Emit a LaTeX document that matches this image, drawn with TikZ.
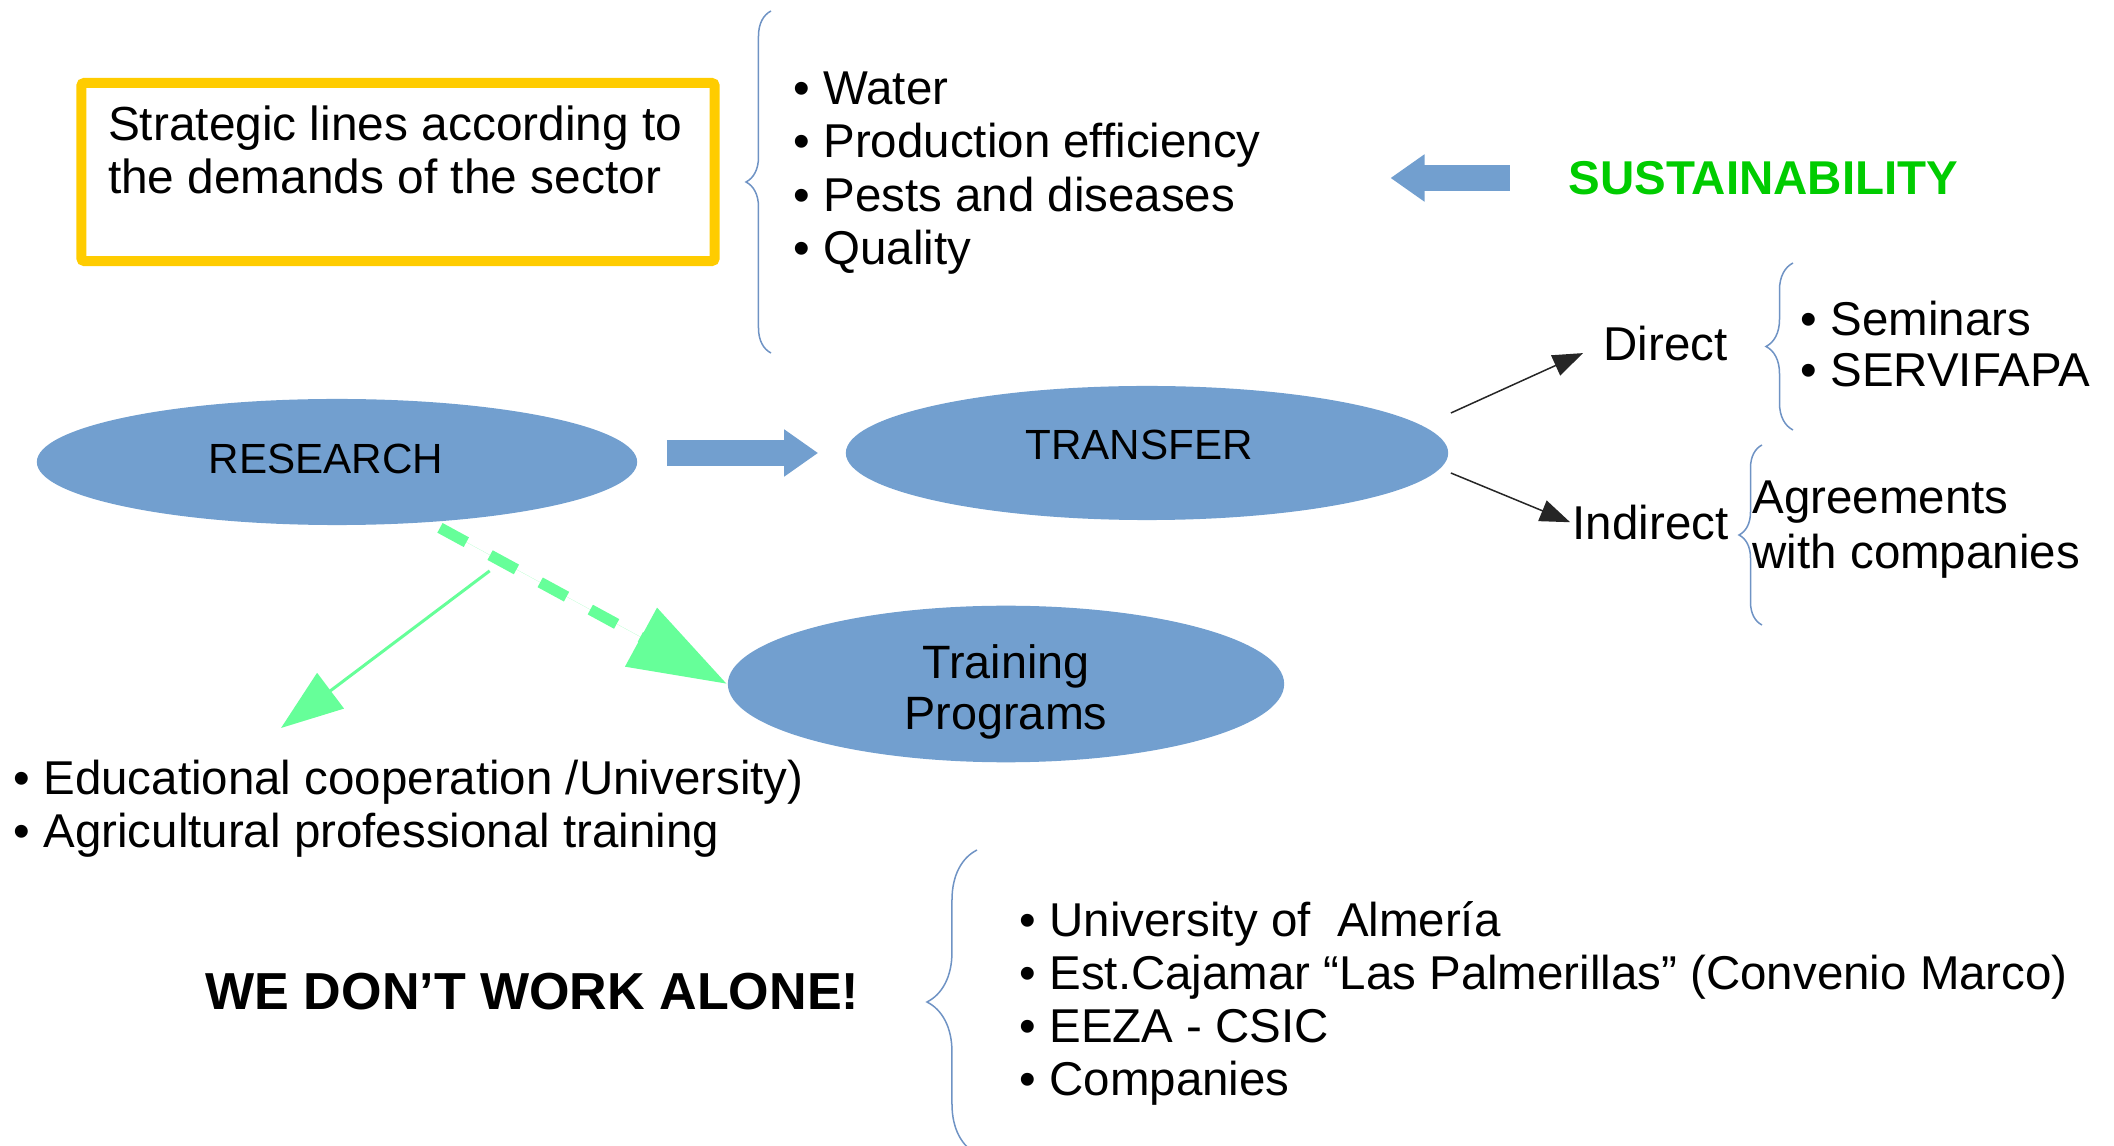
\documentclass[tikz,border=0pt]{standalone}
\usepackage{fontspec}
\setmainfont{Liberation Sans}
\usepackage{tikz}
\usetikzlibrary{calc,positioning,arrows.meta,shapes.geometric,decorations.pathreplacing}
\definecolor{blobblue}{HTML}{729FCF}
\definecolor{boxgold}{HTML}{FFCC00}
\definecolor{leafgreen}{HTML}{66FF99}
\definecolor{sustgreen}{HTML}{00CC00}
\definecolor{curlyblue}{HTML}{6F93C4}
\newcommand\ListFont{\fontsize{13.5pt}{15.2pt}\selectfont}
\newcommand\BlobFont{\fontsize{12pt}{14pt}\selectfont}
\newcommand\TrainFont{\fontsize{13.3pt}{14.5pt}\selectfont}
\newcommand\LoudFont{\fontsize{14.8pt}{17pt}\selectfont\bfseries}

\begin{document}
\begin{tikzpicture}[x=0.01cm,y=-0.01cm,
		blob/.style={ellipse,fill=blobblue,inner sep=0pt,font=\BlobFont},
		txt/.style={inner sep=0pt,anchor=north west,align=left,font=\ListFont},
		curly/.style={draw=curlyblue,line width=0.015cm,decorate,decoration={brace,amplitude=#1}},
		fat/.style={draw=blobblue,line width=0.25cm,-{Triangle[length=0.34cm,width=0.45cm]}},
		pointer/.style={draw=black!85,line width=0.015cm,-{Triangle[length=0.3cm,width=0.22cm]}},
		leafdash/.style={draw=leafgreen,fill=leafgreen,line width=0.11cm,dash pattern=on 0.3cm off 0.27cm,-{Triangle[length=0.98cm,width=0.64cm]}},
		leafline/.style={draw=leafgreen,fill=leafgreen,line width=0.03cm,-{Triangle[length=0.62cm,width=0.44cm]}}]
	\useasboundingbox (0,0) rectangle (2114,1146);
	% 
	\node[draw=boxgold,line width=0.1cm,rounded corners=0.03cm,minimum width=6.33cm,minimum height=1.78cm,inner sep=0pt] (goal) at (398,172) {};
	\node[txt,font=\fontsize{13.6pt}{15.1pt}\selectfont] (goaltext) at ($(goal.north west)+(31,27)$) {Strategic lines according to\\the demands of the sector};
	% 
	\node[txt] (aims) at (793,71) {• Water\\• Production efficiency\\• Pests and diseases\\• Quality};
	\coordinate (aimstop) at (771,11);
	\coordinate (aimsbot) at (771,353);
	\draw[curly=0.25cm] (aimsbot) -- (aimstop);
	% 
	\node[txt,anchor=west,font=\ListFont\bfseries,text=sustgreen] (sust) at (1568,178) {SUSTAINABILITY};
	\draw[fat,shorten <=0.58cm,shorten >=1.29cm] (sust.west) -- (aims.east |- sust.west);
	% 
	\node[blob,minimum width=6cm,minimum height=1.26cm] (research) at (337,462) {RESEARCH\rule[-0.06cm]{0pt}{0.06cm}\hspace*{0.22cm}};
	\node[blob,minimum width=6.02cm,minimum height=1.34cm] (transfer) at (1147,453) {TRANSFER\rule[-0.16cm]{0pt}{0.16cm}\hspace*{0.16cm}};
	\node[blob,minimum width=5.56cm,minimum height=1.5cm,align=center,font=\TrainFont] (training) at (1006,684) {\rule{0pt}{0.5cm}Training\\Programs};
	\draw[fat,shorten <=0.29cm,shorten >=0.27cm] (research.east |- transfer.west) -- (transfer.west);
	% 
	\node[txt,anchor=west] (direct) at (1603,344) {Direct};
	\node[txt,anchor=west] (indirect) at (1572,523) {Indirect};
	\coordinate (dirfoot) at ($(transfer.east)+(2,-40)$);
	\coordinate (indfoot) at ($(transfer.east)+(2,20)$);
	\draw[pointer,shorten >=0.22cm] (dirfoot) -- (direct.west);
	\draw[pointer,shorten >=0.02cm] (indfoot) -- (indirect.west);
	% 
	\coordinate (semtop) at (1793,263);
	\coordinate (sembot) at (1793,430);
	\draw[curly=0.27cm] (sembot) -- (semtop);
	\node[txt,font=\fontsize{13.5pt}{14.5pt}\selectfont] (seminars) at (1800,300) {• Seminars\\• SERVIFAPA};
	\coordinate (agrtop) at (1762,445);
	\coordinate (agrbot) at (1762,625);
	\draw[curly=0.23cm] (agrbot) -- (agrtop);
	\node[txt,font=\fontsize{13.5pt}{15.6pt}\selectfont] (agree) at (1752,480) {Agreements\\with companies};
	% 
	\draw[leafdash,shorten <=0.11cm] (research.-33) -- (training.west);
	\coordinate (fork) at ($(research.-33)!0.2!(training.west)+(0,16)$);
	\coordinate (edutip) at (281,728);
	\draw[leafline] (fork) -- (edutip);
	\node[txt,font=\fontsize{13.5pt}{15.1pt}\selectfont] (edu) at (13,759) {• Educational cooperation /University)\\• Agricultural professional training};
	% 
	\node[txt,anchor=west,font=\LoudFont] (alone) at (205,992) {WE DON’T WORK ALONE!};
	\coordinate (parttop) at (977,850);
	\coordinate (partbot) at (977,1154);
	\draw[curly=0.5cm] (partbot) -- (parttop);
	\node[txt,font=\fontsize{13.5pt}{15.1pt}\selectfont] (partners) at (1019,901) {• University of\ \ Almería\\• Est.Cajamar “Las Palmerillas” (Convenio Marco)\\• EEZA - CSIC\\• Companies};
\end{tikzpicture}
\end{document}
